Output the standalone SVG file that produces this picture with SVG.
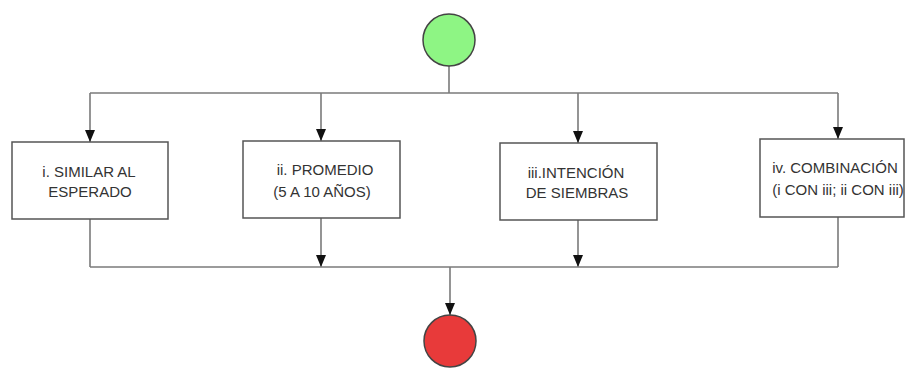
<svg xmlns="http://www.w3.org/2000/svg" width="906" height="368" viewBox="0 0 906 368">
<style>
.box{fill:#fff;stroke:#555;stroke-width:1.5}
.ln{fill:none;stroke:#7a7a7a;stroke-width:1.6}
.t{font-family:"Liberation Sans",Arial,sans-serif;font-size:15px;fill:#333;text-anchor:middle}
</style>
<defs>
<marker id="ah" viewBox="0 0 12 10" refX="12" refY="5" markerWidth="12" markerHeight="10" markerUnits="userSpaceOnUse" orient="auto">
<path d="M0,0 L12,5 L0,10 Z" fill="#111"/>
</marker>
</defs>
<rect width="906" height="368" fill="#fff"/>
<g id="connectors">
<line class="ln" x1="449" y1="66" x2="449" y2="93"/>
<line class="ln" x1="90" y1="93" x2="838" y2="93"/>
<line class="ln" x1="90" y1="93" x2="90" y2="142" marker-end="url(#ah)"/>
<line class="ln" x1="321" y1="93" x2="321" y2="141" marker-end="url(#ah)"/>
<line class="ln" x1="578" y1="93" x2="578" y2="143" marker-end="url(#ah)"/>
<line class="ln" x1="838" y1="93" x2="838" y2="139" marker-end="url(#ah)"/>
<line class="ln" x1="90" y1="219" x2="90" y2="267"/>
<line class="ln" x1="321" y1="218" x2="321" y2="267" marker-end="url(#ah)"/>
<line class="ln" x1="578" y1="220" x2="578" y2="267" marker-end="url(#ah)"/>
<line class="ln" x1="838" y1="217" x2="838" y2="267"/>
<line class="ln" x1="90" y1="267" x2="838" y2="267"/>
<line class="ln" x1="450" y1="267" x2="450" y2="315" marker-end="url(#ah)"/>
</g>
<g id="start"><circle cx="449" cy="40" r="26" fill="#8ef584" stroke="#444" stroke-width="1.5"/></g>
<g id="n1"><rect class="box" x="12" y="142" width="156" height="77"/>
<text class="t" x="89" y="177">i. SIMILAR AL</text><text class="t" x="90" y="197">ESPERADO</text></g>
<g id="n2"><rect class="box" x="243" y="141" width="157" height="77"/>
<text class="t" x="325" y="175">ii. PROMEDIO</text><text class="t" x="322" y="197">(5 A 10 AÑOS)</text></g>
<g id="n3"><rect class="box" x="500" y="143" width="157" height="77"/>
<text class="t" x="576" y="178">iii.INTENCIÓN</text><text class="t" x="577" y="198">DE SIEMBRAS</text></g>
<g id="n4"><rect class="box" x="760" y="139" width="144" height="78"/>
<text class="t" x="835" y="173">iv. COMBINACIÓN</text><text class="t" x="838" y="195">(i CON iii; ii CON iii)</text></g>
<g id="end"><circle cx="450" cy="341" r="26" fill="#e83a3a" stroke="#444" stroke-width="1.5"/></g>
</svg>
